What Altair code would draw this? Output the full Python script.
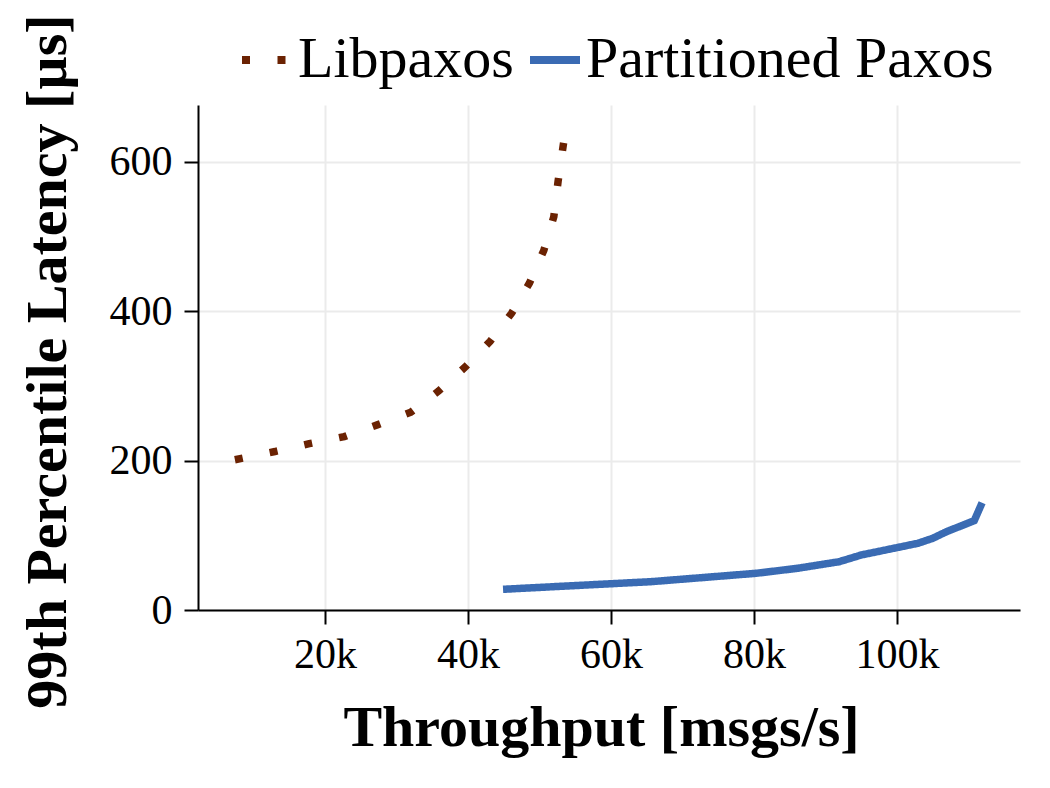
import altair as alt
import pandas as pd

# Libpaxos: throughput (msgs/s) vs 99th percentile latency (µs)
lib_tput = [7400, 13000, 17800, 22700, 27400, 32000, 35900, 39600, 43100,
            46100, 48600, 50600, 52000, 52600, 53400]
lib_lat = [201, 212, 222.5, 232, 248, 264.5, 293, 325, 359.5,
           397, 437.5, 481, 526, 573.5, 627]

# Partitioned Paxos
pp_tput = [44900, 65600, 80300, 86100, 91900, 95000, 102900, 105000,
           106900, 110800, 111900]
pp_lat = [27.7, 37.9, 49.1, 55.8, 64.6, 73.6, 89.2, 95.9, 104.7, 119.5, 143.5]

series_names = ["Libpaxos", "Partitioned Paxos"]
series_colors = ["#6b2202", "#3a6bb3"]
series_dash = [[8, 27.5], [1, 0]]

df = pd.concat([
    pd.DataFrame({"tput": lib_tput, "lat": lib_lat, "system": series_names[0],
                  "order": range(len(lib_tput))}),
    pd.DataFrame({"tput": pp_tput, "lat": pp_lat, "system": series_names[1],
                  "order": range(len(pp_tput))}),
])

FONT = "Liberation Serif"

chart = alt.Chart(df).mark_line(strokeWidth=7.5, strokeCap="butt", clip=True).encode(
    x=alt.X("tput:Q",
            scale=alt.Scale(domain=[2240, 117200], nice=False, zero=False),
            axis=alt.Axis(title="Throughput [msgs/s]", values=[20000, 40000, 60000, 80000, 100000],
                          format="~s", titleX=403, titleY=135, titleBaseline="alphabetic")),
    y=alt.Y("lat:Q",
            scale=alt.Scale(domain=[0, 675.6], nice=False),
            axis=alt.Axis(title="99th Percentile Latency [µs]", values=[0, 200, 400, 600],
                          titleX=-150, titleY=256, titleBaseline="middle", titleAngle=270)),
    color=alt.Color("system:N", scale=alt.Scale(domain=series_names, range=series_colors),
                    legend=alt.Legend(title=None)),
    strokeDash=alt.StrokeDash("system:N", scale=alt.Scale(domain=series_names, range=series_dash),
                              legend=alt.Legend(title=None)),
    order="order:Q",
).properties(
    width=822,
    height=505,
    autosize=alt.AutoSizeParams(type="none"),
    padding={"left": 198, "top": 105, "right": 30, "bottom": 178},
).configure_view(
    stroke=None,
).configure_axis(
    labelFont=FONT,
    labelFontSize=42,
    labelColor="black",
    titleFont=FONT,
    titleFontSize=58,
    titleFontWeight="bold",
    titleColor="black",
    domainColor="black",
    domainWidth=2,
    tickColor="black",
    tickWidth=2,
    tickSize=14,
    gridColor="#ebebeb",
    gridWidth=2,
).configure_axisX(
    labelPadding=10,
).configure_axisY(
    labelPadding=12,
).configure_legend(
    orient="none",
    legendX=40,
    legendY=-74,
    direction="horizontal",
    labelFont=FONT,
    labelFontSize=58,
    labelColor="black",
    labelOffset=2,
    columnPadding=0,
    symbolType="stroke",
    symbolSize=2500,
    symbolStrokeWidth=8,
    padding=0,
    labelLimit=0,
)

chart.save("out.html", embed_options={"renderer": "svg", "actions": False})
